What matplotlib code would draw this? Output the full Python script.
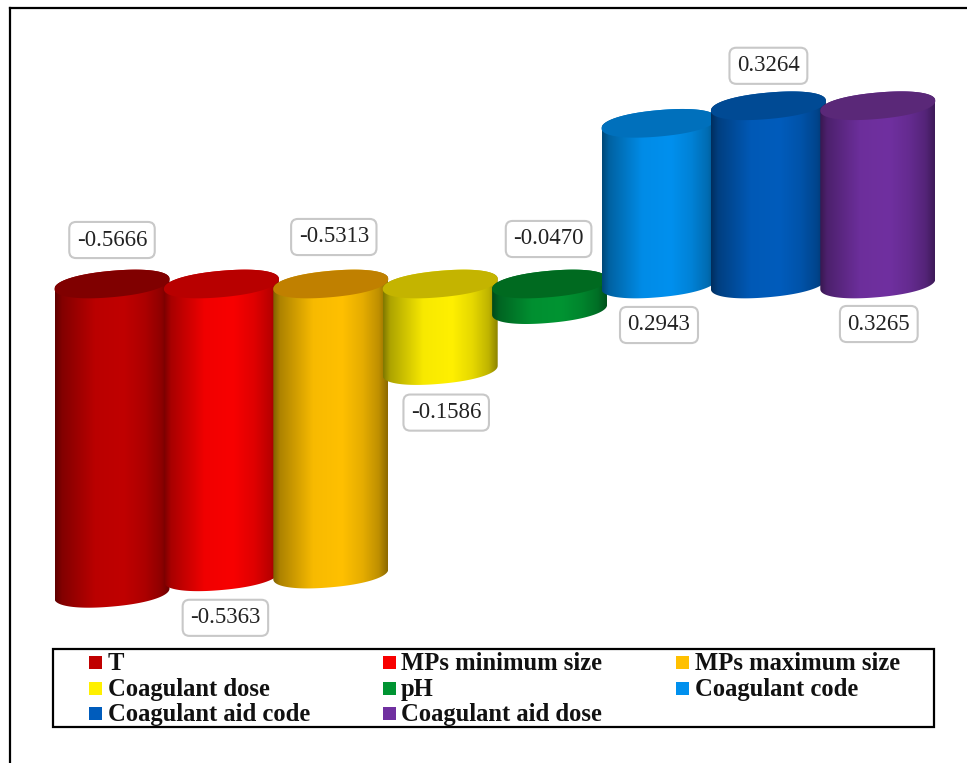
import numpy as np
import matplotlib
matplotlib.use("Agg")
import matplotlib.pyplot as plt
from matplotlib.patches import Polygon, Rectangle

plt.rcParams['font.family'] = ['Liberation Serif', 'DejaVu Serif']

# data
names = ["T", "MPs minimum size", "MPs maximum size", "Coagulant dose", "pH",
         "Coagulant code", "Coagulant aid code", "Coagulant aid dose"]
values = [-0.5666, -0.5363, -0.5313, -0.1586, -0.0470, 0.2943, 0.3264, 0.3265]
labels = ["-0.5666", "-0.5363", "-0.5313", "-0.1586", "-0.0470", "0.2943", "0.3264", "0.3265"]
colors = ["#c00000", "#f80000", "#ffc000", "#fff000", "#009432", "#0090ee", "#005cbc", "#7030a0"]
top_colors = ["#800000", "#b80000", "#c08000", "#c4b400", "#006a20", "#0070bc", "#004a94", "#5a2878"]

W, H = 967, 763
px_per_cat = 109.4
px_per_val = 546.0
x0_px = 112.0   # pixel of first category
zero_px = 284.0 # pixel of value 0

fig = plt.figure(figsize=(W / 100, H / 100), dpi=100)
ax = fig.add_axes([0, 0, 1, 1])

half_w = 57.5 / px_per_cat
tilt = 5.0 / px_per_val
half_h = 13.2 / px_per_val
round_pow = 0.92  # a bit fuller than a true ellipse

# shading across the cylinder, edge to edge
shade_x = [0.0, 0.06, 0.2, 0.35, 0.6, 0.78, 0.92, 1.0]
shade_v = [0.50, 0.68, 0.82, 0.97, 1.0, 0.90, 0.75, 0.55]


def ellipse(xc, yc, t):
    c, s = np.cos(t), np.sin(t)
    ex = np.sign(c) * np.abs(c) ** round_pow
    ey = np.sign(s) * np.abs(s) ** round_pow
    return xc + half_w * ex, yc + half_h * ey + tilt * ex


t_upper = np.linspace(0, np.pi, 80)
t_lower = np.linspace(np.pi, 2 * np.pi, 80)

for i, v in enumerate(values):
    hi, lo = max(v, 0), min(v, 0)
    # body outline: lower arc of the bottom end, then upper arc of the top end
    bx, by = ellipse(i, lo, t_lower)
    tx, ty = ellipse(i, hi, t_upper)
    outline = Polygon(np.column_stack([np.r_[bx, tx], np.r_[by, ty]]), closed=True,
                      fc="none", ec="none", transform=ax.transData)
    ax.add_patch(outline)

    s = np.interp(np.linspace(0, 1, 256), shade_x, shade_v)
    rgb = np.array(matplotlib.colors.to_rgb(colors[i]))
    grad = (s[:, None] * rgb)[None, :, :]
    im = ax.imshow(grad, aspect="auto", interpolation="bilinear", zorder=2 + i,
                   extent=[i - half_w, i + half_w, lo - 0.05, hi + 0.05])
    im.set_clip_path(outline)

    ex, ey = ellipse(i, hi, np.linspace(0, 2 * np.pi, 160))
    ax.add_patch(Polygon(np.column_stack([ex, ey]), closed=True, fc=top_colors[i],
                         ec="none", zorder=2 + i))

ax.set_xlim(-x0_px / px_per_cat, (W - x0_px) / px_per_cat)
ax.set_ylim(-(H - zero_px) / px_per_val, zero_px / px_per_val)
ax.axis("off")

# labels sit above the top end or below the bottom end of each bar, offsets in pixels
offsets = [(0, 44), (4, -41), (3, 47), (6, -42), (-1, 45), (0, -41), (0, 40), (1, -40)]
anchors = [0, values[1], 0, values[3], 0, 0, values[6], 0]
for i, lab in enumerate(labels):
    ax.annotate(lab, xy=(i, anchors[i]), xytext=offsets[i], textcoords="offset pixels",
                ha="center", va="center", fontsize=16.5, color="#222222", zorder=20,
                bbox=dict(boxstyle="round,pad=0.33,rounding_size=0.3", fc="white",
                          ec="#c8c8c8", lw=1.5))


def fx(p):
    return p / W


def fy(p):
    return 1 - p / H


# outer frame, open on the right and at the bottom
ax.plot([fx(10), fx(10)], [fy(763), fy(8)], color="black", lw=1.6, transform=ax.transAxes, clip_on=False)
ax.plot([fx(10), fx(967)], [fy(8), fy(8)], color="black", lw=1.6, transform=ax.transAxes, clip_on=False)

# legend
ax.add_patch(Rectangle((fx(53), fy(727)), fx(934) - fx(53), fy(649) - fy(727), fc="white",
                       ec="black", lw=1.6, transform=ax.transAxes, zorder=30))
col_swatch = [89, 383, 676]
col_text = [108, 401, 695]
row_y = [662, 688, 713]
for i, n in enumerate(names):
    c, r = i % 3, i // 3
    ax.add_patch(Rectangle((fx(col_swatch[c]), fy(row_y[r] + 6.5)), 13 / W, 13 / H, fc=colors[i],
                           ec="none", transform=ax.transAxes, zorder=31))
    ax.text(fx(col_text[c]), fy(row_y[r] - 1), n, transform=ax.transAxes, ha="left", va="center_baseline",
            fontsize=17.7, fontweight="bold", color="#111111", zorder=31)

fig.savefig("out.png", dpi=100)
